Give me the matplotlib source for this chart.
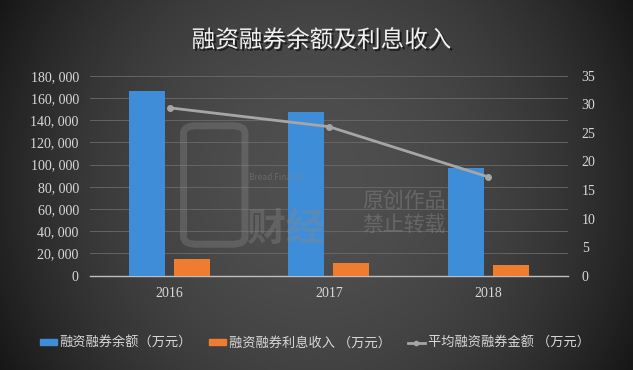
import numpy as np
import matplotlib
matplotlib.use('Agg')
import matplotlib.pyplot as plt
import matplotlib.patheffects as pe
from matplotlib.patches import FancyBboxPatch

plt.rcParams['font.family'] = ['Noto Sans CJK SC', 'DejaVu Sans']

years = ['2016', '2017', '2018']
balance = [166000, 147600, 97200]        # 融资融券余额（万元）
interest = [14800, 11700, 9900]          # 融资融券利息收入（万元）
avg_amount = [29.4, 26.1, 17.3]          # 平均融资融券金额（万元）

left_ticks = list(range(0, 180001, 20000))
right_ticks = list(range(0, 36, 5))

fig = plt.figure(figsize=(6.33, 3.70), dpi=100)

# dark vignette background
bg = fig.add_axes([0, 0, 1, 1], zorder=-10)
yy, xx = np.mgrid[-1:1:200j, -1:1:340j]
r = np.sqrt((xx * 1.0) ** 2 + (yy * 0.55) ** 2)
shade = 0.31 - 0.17 * r ** 2
shade = np.clip(shade, 0.09, 0.32)
bg.imshow(np.dstack([shade, shade, shade]), aspect='auto', extent=[0, 1, 0, 1])
bg.set_axis_off()

ax = fig.add_axes([0.142, 0.255, 0.755, 0.54])
ax.set_facecolor('none')
x = np.arange(len(years))
w = 0.226
gap = 0.057
ax.bar(x - (w + gap) / 2, balance, width=w, color='#3d8dd8', zorder=3)
ax.bar(x + (w + gap) / 2, interest, width=w, color='#ee7d31', zorder=3)
ax.set_xlim(-0.5, 2.5)
ax.set_ylim(0, 180000)
ax.set_yticks(left_ticks)
ax.set_yticklabels(['{:,}'.format(v).replace(',', ', ') for v in left_ticks],
                   fontfamily='Liberation Serif', fontsize=10, color='#d9d9d9')
ax.set_xticks(x)
ax.set_xticklabels(years, fontfamily='Liberation Serif', fontsize=10, color='#d9d9d9')
ax.tick_params(length=0, pad=8)
ax.grid(axis='y', color='#6a6a6a', linewidth=0.6, zorder=0)
for s in ['top', 'right', 'left']:
    ax.spines[s].set_visible(False)
ax.spines['bottom'].set_color('#bfbfbf')
ax.spines['bottom'].set_linewidth(1.0)

ax2 = ax.twinx()
ax2.plot(x, avg_amount, color='#a6a6a6', linewidth=2, marker='o', markersize=4, zorder=4)
ax2.set_ylim(0, 35)
ax2.set_yticks(right_ticks)
ax2.set_yticklabels([str(v) for v in right_ticks], fontfamily='Liberation Serif',
                    fontsize=10, color='#d9d9d9')
ax2.tick_params(length=0, pad=10)
for s in ax2.spines.values():
    s.set_visible(False)

# watermark
wm = '#8a8a8a'
fig.patches.append(FancyBboxPatch((0.295, 0.345), 0.087, 0.31, boxstyle='round,pad=0.005,rounding_size=0.02',
                                  transform=fig.transFigure, fill=False, edgecolor=wm,
                                  linewidth=5, alpha=0.35, zorder=5))
fig.text(0.393, 0.514, 'Bread Finance', fontsize=6, color=wm, alpha=0.45, zorder=5)
fig.text(0.39, 0.35, '财经', fontsize=28, fontweight='bold', color=wm, alpha=0.35, zorder=5)
fig.text(0.572, 0.44, '原创作品', fontsize=15, color=wm, alpha=0.45, zorder=5)
fig.text(0.572, 0.375, '禁止转载', fontsize=15, color=wm, alpha=0.45, zorder=5)

fig.text(0.508, 0.89, '融资融券余额及利息收入', ha='center', va='center', fontsize=17,
         color='#f2f2f2',
         path_effects=[pe.withSimplePatchShadow(offset=(1.5, -1.5), shadow_rgbFace='#000000', alpha=0.6)])

# legend
h1 = plt.Rectangle((0, 0), 1, 1, color='#3d8dd8')
h2 = plt.Rectangle((0, 0), 1, 1, color='#ee7d31')
h3 = plt.Line2D([], [], color='#a6a6a6', linewidth=2, marker='o', markersize=3)
leg = fig.legend([h1, h2, h3], ['融资融券余额（万元）', '融资融券利息收入 （万元）', '平均融资融券金额 （万元）'],
                 loc='center', bbox_to_anchor=(0.497, 0.072), ncol=3, frameon=False,
                 fontsize=9.5, handlelength=1.3, handleheight=0.4, handletextpad=0.2,
                 columnspacing=1.3)
for t in leg.get_texts():
    t.set_color('#d9d9d9')

fig.savefig('out.png', dpi=100)
